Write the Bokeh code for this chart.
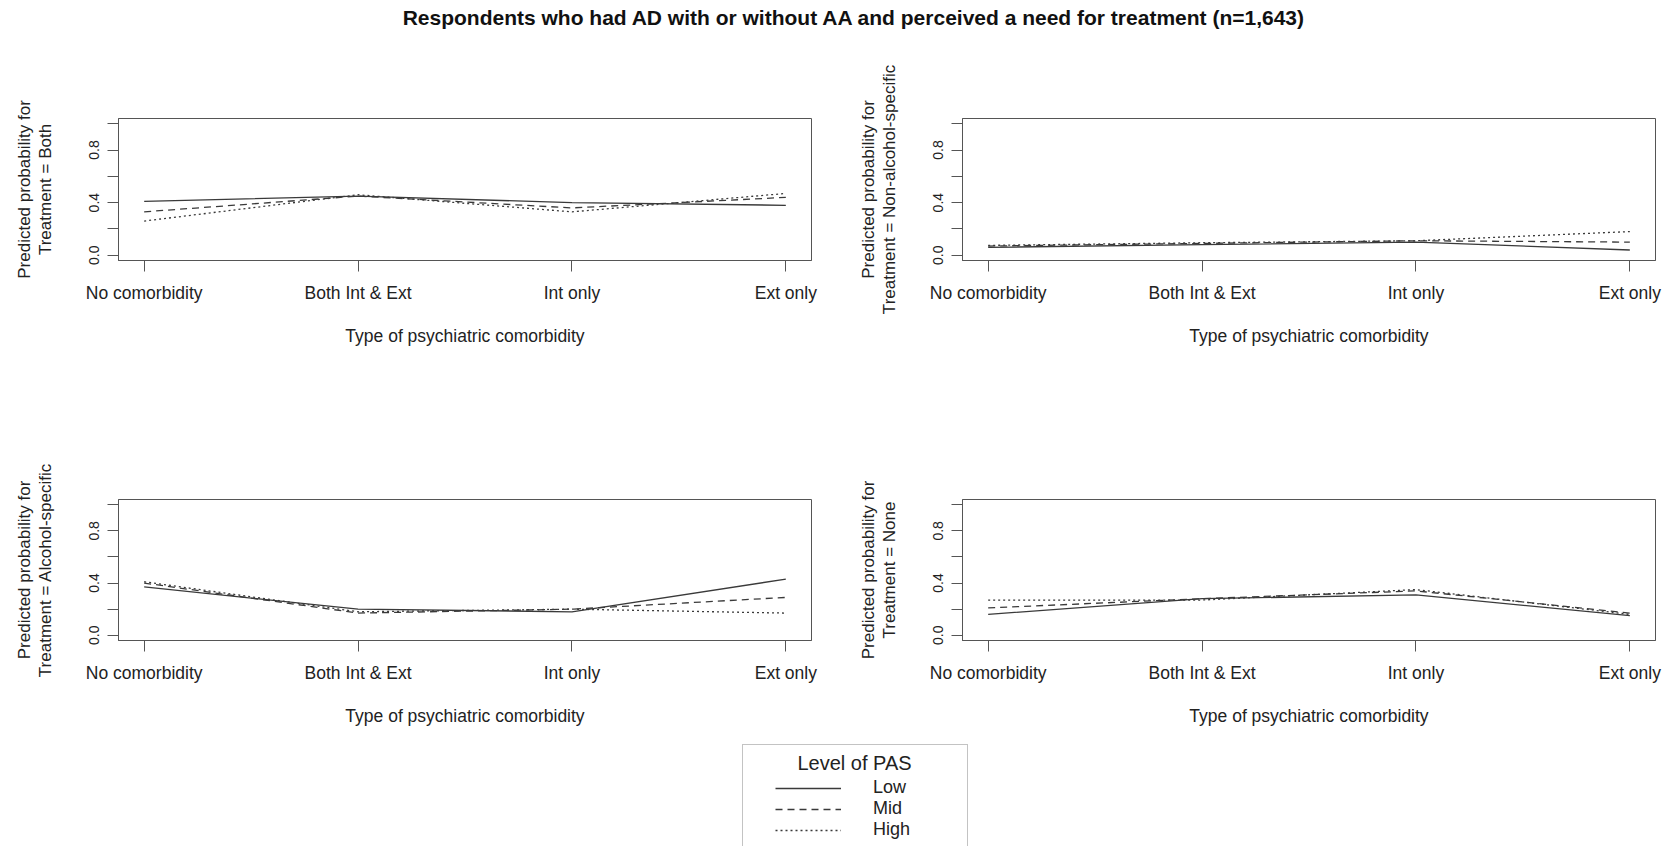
from bokeh.plotting import figure
from bokeh.models import Range1d, FixedTicker, Label, Legend, LegendItem
from bokeh.layouts import column, row
from bokeh.embed import file_html
from bokeh.resources import INLINE

FONT = "Liberation Sans"

title_text = "Respondents who had AD with or without AA and perceived a need for treatment (n=1,643)"
categories = ["No comorbidity", "Both Int & Ext", "Int only", "Ext only"]
levels = ["Low", "Mid", "High"]
x_title = "Type of psychiatric comorbidity"
y_prefix = "Predicted probability for"
treatments = ["Both", "Non-alcohol-specific", "Alcohol-specific", "None"]
y_ticks = [0.0, 0.2, 0.4, 0.6, 0.8, 1.0]
y_tick_labels = ["0.0", "", "0.4", "", "0.8", ""]
legend_title = "Level of PAS"

# predicted probabilities, one list per level of PAS (Low, Mid, High)
both_low = [0.41, 0.45, 0.40, 0.38]
both_mid = [0.33, 0.45, 0.36, 0.44]
both_high = [0.26, 0.46, 0.33, 0.47]

nonalc_low = [0.06, 0.08, 0.10, 0.04]
nonalc_mid = [0.07, 0.09, 0.11, 0.10]
nonalc_high = [0.075, 0.095, 0.11, 0.18]

alc_low = [0.37, 0.20, 0.18, 0.43]
alc_mid = [0.40, 0.17, 0.20, 0.29]
alc_high = [0.41, 0.18, 0.20, 0.17]

none_low = [0.16, 0.28, 0.31, 0.15]
none_mid = [0.21, 0.28, 0.34, 0.17]
none_high = [0.27, 0.27, 0.35, 0.16]

panel_series = [
    [both_low, both_mid, both_high],
    [nonalc_low, nonalc_mid, nonalc_high],
    [alc_low, alc_mid, alc_high],
    [none_low, none_mid, none_high],
]

LINE_COLOR = "#3a3a3a"
AXIS_COLOR = "#555555"
TEXT_COLOR = "#222222"
DASHES = ["solid", "7 5", "2 3"]


def make_panel(idx, width, height, bl, br, bt, bb):
    xs = list(range(1, len(categories) + 1))
    p = figure(width=width, height=height,
               x_range=Range1d(0.88, 4.12), y_range=Range1d(-0.04, 1.04),
               output_backend="svg", toolbar_location=None,
               min_border_left=bl, min_border_right=br,
               min_border_top=bt, min_border_bottom=bb)
    p.xgrid.visible = False
    p.ygrid.visible = False
    p.outline_line_color = AXIS_COLOR
    p.outline_line_width = 1
    p.outline_line_alpha = 1

    for series, dash in zip(panel_series[idx], DASHES):
        p.line(xs, series, line_color=LINE_COLOR, line_width=1.3, line_dash=dash)

    xa = p.xaxis[0]
    xa.ticker = FixedTicker(ticks=xs)
    xa.major_label_overrides = {x: c for x, c in zip(xs, categories)}
    xa.major_tick_out = 11
    xa.major_tick_in = 0
    xa.minor_tick_out = 0
    xa.minor_tick_in = 0
    xa.axis_line_color = AXIS_COLOR
    xa.major_tick_line_color = AXIS_COLOR
    xa.major_label_text_font = FONT
    xa.major_label_text_font_size = "17.5px"
    xa.major_label_text_color = TEXT_COLOR
    xa.major_label_standoff = 11
    xa.axis_label = x_title
    xa.axis_label_text_font = FONT
    xa.axis_label_text_font_size = "17.5px"
    xa.axis_label_text_font_style = "normal"
    xa.axis_label_text_color = TEXT_COLOR
    xa.axis_label_standoff = 20

    ya = p.yaxis[0]
    ya.ticker = FixedTicker(ticks=y_ticks)
    ya.major_label_overrides = {t: s for t, s in zip(y_ticks, y_tick_labels)}
    ya.major_label_orientation = "vertical"
    ya.major_tick_out = 11
    ya.major_tick_in = 0
    ya.minor_tick_out = 0
    ya.minor_tick_in = 0
    ya.axis_line_color = AXIS_COLOR
    ya.major_tick_line_color = AXIS_COLOR
    ya.major_label_text_font = FONT
    ya.major_label_text_font_size = "14px"
    ya.major_label_text_color = TEXT_COLOR
    ya.major_label_standoff = 8
    ya.axis_label = y_prefix + "\nTreatment = " + treatments[idx]
    ya.axis_label_text_font = FONT
    ya.axis_label_text_font_size = "17px"
    ya.axis_label_text_font_style = "normal"
    ya.axis_label_text_color = TEXT_COLOR
    ya.axis_label_text_line_height = 1.1
    ya.axis_label_standoff = 32
    return p


# title strip
tfig = figure(width=1678, height=50, output_backend="svg", toolbar_location=None,
              x_axis_location=None, y_axis_location=None, min_border=0,
              x_range=Range1d(0, 1), y_range=Range1d(0, 1))
tfig.grid.visible = False
tfig.outline_line_color = None
tfig.add_layout(Label(x=854, y=33, x_units="screen", y_units="screen", text=title_text,
                      text_font=FONT, text_font_size="21px", text_font_style="bold",
                      text_align="center", text_baseline="middle", text_color="#111111"))

p1 = make_panel(0, 839, 380, 118, 28, 68, 170)
p2 = make_panel(1, 839, 380, 123, 23, 68, 170)
p3 = make_panel(2, 839, 312, 118, 28, 69, 102)
p4 = make_panel(3, 839, 312, 123, 23, 69, 102)

# legend strip
lfig = figure(width=1678, height=104, output_backend="svg", toolbar_location=None,
              x_axis_location=None, y_axis_location=None, min_border=0,
              x_range=Range1d(0, 1), y_range=Range1d(0, 1))
lfig.grid.visible = False
lfig.outline_line_color = None
lfig.add_layout(Label(x=854, y=84, x_units="screen", y_units="screen", text=legend_title,
                      text_font=FONT, text_font_size="20px", text_align="center",
                      text_baseline="middle", text_color=TEXT_COLOR))
items = []
for lvl, dash in zip(levels, DASHES):
    r = lfig.line(x=[float("nan")], y=[float("nan")], line_color=LINE_COLOR,
                  line_width=1.3, line_dash=dash)
    items.append(LegendItem(label=lvl, renderers=[r]))
legend = Legend(items=items, location=(742, -27), padding=32, margin=0, spacing=0,
                glyph_width=66, glyph_height=18, label_height=18, label_width=62,
                label_standoff=32, label_text_font=FONT, label_text_font_size="18px",
                label_text_color=TEXT_COLOR,
                border_line_color="#888888", border_line_width=1,
                background_fill_alpha=0)
lfig.add_layout(legend)

layout = column(tfig, row(p1, p2), row(p3, p4), lfig)
open("out.html", "w").write(file_html(layout, INLINE))
